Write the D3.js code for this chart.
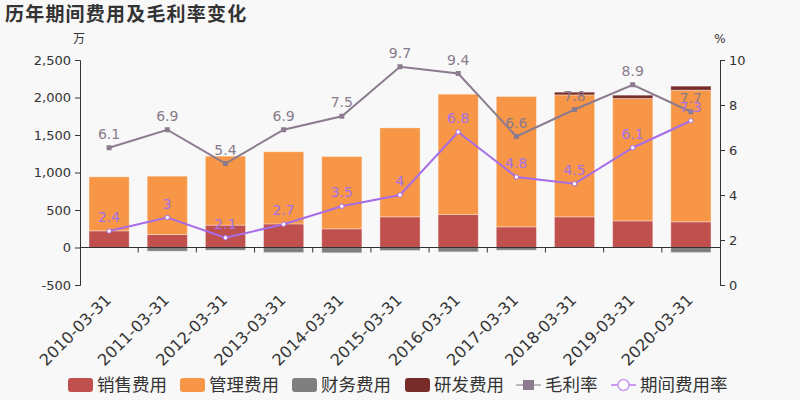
<!DOCTYPE html>
<html><head><meta charset="utf-8">
<script src="https://cdn.jsdelivr.net/npm/d3@7"></script>
<style>
body{margin:0;background:#f8f8f8;}
svg{display:block;font-family:"DejaVu Sans","Noto Sans CJK SC",sans-serif;}
</style></head>
<body><svg id="c" width="800" height="400"></svg>
<script>
const categories = ["2010-03-31","2011-03-31","2012-03-31","2013-03-31","2014-03-31","2015-03-31","2016-03-31","2017-03-31","2018-03-31","2019-03-31","2020-03-31"];
const sales = [222,173,298,315,249,409,440,275,409,355,342];
const mgmt = [720,778,920,961,964,1186,1604,1738,1626,1632,1756];
const finance = [-5,-49,-36,-67,-71,-40,-58,-36,-5,0,-67];
const rnd = [0,0,0,0,0,0,0,0,36,44,53];
const grossMargin = [6.1,6.9,5.4,6.9,7.5,9.7,9.4,6.6,7.8,8.9,7.7];
const periodRate = [2.4,3,2.1,2.7,3.5,4,6.8,4.8,4.5,6.1,7.3];
const leftTicks = [-500,0,500,1000,1500,2000,2500];
const rightTicks = [0,2,4,6,8,10];
const seriesNames = ["销售费用","管理费用","财务费用","研发费用","毛利率","期间费用率"];
const colors = {sales:"#c0504d", mgmt:"#f79646", finance:"#7f7f7f", rnd:"#772c2a", gm:"#8c7b8f", pr:"#a76de6"};

const svg = d3.select("#c");
const L=80,R=720,T=60,B=285;
const x = d3.scaleBand().domain(categories).range([L,R]).paddingInner(0.31).paddingOuter(0.155);
const yL = d3.scaleLinear().domain([-500,2500]).range([B,T]);
const yR = d3.scaleLinear().domain([0,10]).range([B,T]);

// title
svg.append("text").attr("x",5).attr("y",21).attr("font-size",19).attr("font-weight","bold")
  .attr("fill","#333").attr("font-family","Noto Sans CJK SC").attr("letter-spacing",1.2).text("历年期间费用及毛利率变化");
svg.append("text").attr("x",79).attr("y",43).attr("font-size",12).attr("fill","#333").attr("text-anchor","middle")
  .attr("font-family","Noto Sans CJK SC").text("万");
svg.append("text").attr("x",720).attr("y",43).attr("font-size",12).attr("fill","#333").attr("text-anchor","middle").text("%");

// bars
const rows = categories.map((c,i)=>({c, segs:[
  {k:"sales",y0:0,y1:sales[i]},
  {k:"mgmt",y0:sales[i],y1:sales[i]+mgmt[i]},
  {k:"rnd",y0:sales[i]+mgmt[i],y1:sales[i]+mgmt[i]+rnd[i]},
  {k:"finance",y0:0,y1:finance[i]}
]}));
const g = svg.append("g");
rows.forEach(r=>{
  r.segs.forEach(s=>{
    if(s.y1===s.y0) return;
    const ya=yL(Math.max(s.y0,s.y1)), yb=yL(Math.min(s.y0,s.y1));
    g.append("rect").attr("x",x(r.c)).attr("width",x.bandwidth())
      .attr("y",ya).attr("height",yb-ya).attr("fill",colors[s.k])
      .attr("stroke","rgba(255,255,255,0.35)").attr("stroke-width",1);
  });
});

// axes
const fmt = d3.format(",");
const axL = svg.append("g").attr("transform",`translate(${L},0)`)
  .call(d3.axisLeft(yL).tickValues(leftTicks).tickFormat(d=>fmt(d).replace("\u2212","-")).tickSize(5).tickPadding(4));
const axR = svg.append("g").attr("transform",`translate(${R},0)`)
  .call(d3.axisRight(yR).tickValues(rightTicks).tickSize(5).tickPadding(4));
[axL,axR].forEach(a=>{
  a.select(".domain").attr("stroke","#333");
  a.selectAll(".tick line").attr("stroke","#333");
  a.selectAll(".tick text").attr("fill","#333").attr("font-size",13).attr("font-family","DejaVu Sans");
});
// x axis at zero
const y0 = yL(0);
svg.append("line").attr("x1",L).attr("x2",R).attr("y1",y0).attr("y2",y0).attr("stroke","#333");
const bounds = categories.map(c=>x(c)-x.step()*x.paddingInner()/2).slice(1);
svg.selectAll(".xt").data(bounds).join("line").attr("x1",d=>d).attr("x2",d=>d)
  .attr("y1",y0).attr("y2",y0+5).attr("stroke","#333");
svg.selectAll(".xl").data(categories).join("text")
  .attr("transform",d=>`translate(${x(d)+x.bandwidth()/2+3},${301}) rotate(-45)`)
  .attr("text-anchor","end").attr("font-size",16).attr("fill","#333").text(d=>d);

// lines
const cx = c=>x(c)+x.bandwidth()/2;
const lineGM = d3.line().x((d,i)=>cx(categories[i])).y(d=>yR(d));
svg.append("path").attr("d",lineGM(grossMargin)).attr("fill","none").attr("stroke",colors.gm).attr("stroke-width",2);
svg.selectAll(".gmp").data(grossMargin).join("rect")
  .attr("x",(d,i)=>cx(categories[i])-2.5).attr("y",d=>yR(d)-2.5).attr("width",5).attr("height",5).attr("fill",colors.gm);
svg.append("path").attr("d",lineGM(periodRate)).attr("fill","none").attr("stroke",colors.pr).attr("stroke-width",2);
svg.selectAll(".prp").data(periodRate).join("circle")
  .attr("cx",(d,i)=>cx(categories[i])).attr("cy",d=>yR(d)).attr("r",2.2).attr("fill","#fff").attr("stroke",colors.pr).attr("stroke-width",1);
svg.selectAll(".gml").data(grossMargin).join("text")
  .attr("x",(d,i)=>cx(categories[i])).attr("y",d=>yR(d)-9).attr("text-anchor","middle")
  .attr("font-size",14).attr("fill","#8a7b8c").text(d=>d);
svg.selectAll(".prl").data(periodRate).join("text")
  .attr("x",(d,i)=>cx(categories[i])).attr("y",d=>yR(d)-9).attr("text-anchor","middle")
  .attr("font-size",14).attr("fill","#a572e6").text(d=>d);

// legend
const lg = svg.append("g").attr("font-family","Noto Sans CJK SC").attr("font-size",17.5).attr("fill","#333");
const lx = [68,180,292,405,516,611];
const sw = [colors.sales,colors.mgmt,colors.finance,colors.rnd];
seriesNames.forEach((n,i)=>{
  const X=lx[i];
  if(i<4){
    lg.append("rect").attr("x",X).attr("y",378).attr("width",25).attr("height",14).attr("rx",3).attr("fill",sw[i]);
  } else if(i===4){
    lg.append("line").attr("x1",X).attr("x2",X+25).attr("y1",385).attr("y2",385).attr("stroke","#c2b5c3").attr("stroke-width",2);
    lg.append("rect").attr("x",X+7).attr("y",380).attr("width",11).attr("height",10).attr("fill",colors.gm);
  } else {
    lg.append("line").attr("x1",X).attr("x2",X+25).attr("y1",385).attr("y2",385).attr("stroke","#c99af2").attr("stroke-width",2);
    lg.append("circle").attr("cx",X+12.5).attr("cy",385).attr("r",5.5).attr("fill","#fff").attr("stroke","#c99af2").attr("stroke-width",1.5);
  }
  lg.append("text").attr("x",X+29).attr("y",391).text(n);
});
</script></body></html>
